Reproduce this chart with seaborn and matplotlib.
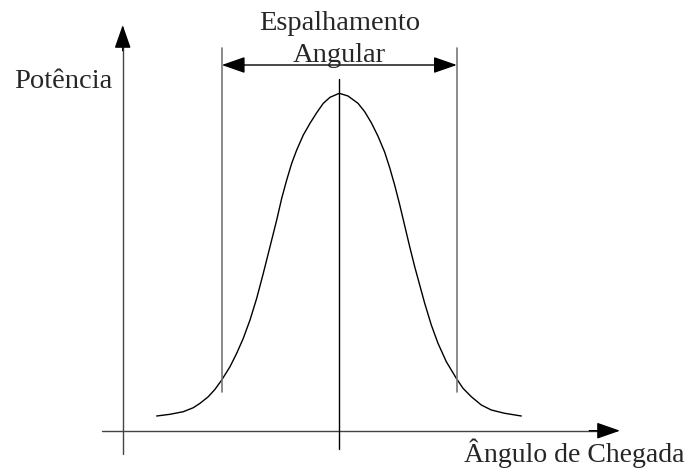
import matplotlib
matplotlib.use("Agg")
import matplotlib.pyplot as plt
import seaborn as sns

# curve (angle offset from centre, power)
angle = [-182.6, -169.3, -156.0, -146.0, -139.3, -131.0, -124.3, -117.6, -109.3, -102.6,
         -96.0, -89.3, -82.6, -76.0, -69.3, -62.6, -57.6, -52.6, -47.6, -42.6,
         -36.0, -29.3, -22.6, -16.0, -9.3, 0.0,
         8.7, 18.7, 25.4, 32.0, 38.7, 45.4, 50.4, 55.4, 60.4, 65.4,
         70.4, 75.4, 80.4, 85.4, 92.0, 98.7, 107.0, 117.0, 123.7, 132.0,
         142.0, 152.0, 165.4, 182.0]
power = [14.7, 16.4, 19.0, 23.0, 27.4, 34.0, 41.4, 50.7, 64.0, 77.4,
         92.4, 110.7, 132.4, 157.4, 184.0, 210.7, 232.4, 250.7, 267.4, 280.7,
         295.7, 307.4, 318.0, 327.4, 333.4, 337.4,
         334.7, 327.4, 319.0, 308.0, 294.5, 278.5, 263.0, 245.5, 226.0, 205.0,
         184.0, 164.0, 145.7, 127.4, 105.7, 87.4, 69.0, 52.4, 42.4, 34.0,
         25.7, 20.7, 17.4, 14.7]

spread_edges = [-117.5, 117.5]
mean_angle = 0.0

ylabel = "Potência"
xlabel = "Ângulo de Chegada"
spread_label = ["Espalhamento", "Angular"]

sns.set_style("white")
plt.rcParams["font.family"] = ["Liberation Serif", "DejaVu Serif"]

fig = plt.figure(figsize=(6.87, 4.70), dpi=100)
ax = fig.add_axes([0, 0, 1, 1])
ax.set_xlim(-339.3, 347.7)
ax.set_ylim(-39.3, 430.7)
ax.axis("off")

sns.lineplot(x=angle, y=power, sort=False, estimator=None, color="black", lw=1.0, ax=ax)

def arrow(start, end, style="-|>"):
    ax.annotate("", xy=end, xytext=start,
                arrowprops=dict(arrowstyle=style + ",head_length=0.4,head_width=0.14",
                                mutation_scale=36, color="black", lw=1.0,
                                shrinkA=0, shrinkB=0))

# axes
ax.plot([-237.3, 262], [0, 0], color="#444444", lw=1.0)
arrow((250, 0), (280.7, 0))
ax.plot([-216.6, -216.6], [-23.3, 390], color="#444444", lw=1.0)
arrow((-216.6, 380), (-216.6, 405.7))

# spread markers
for e in spread_edges:
    ax.plot([e, e], [38.7, 382.7], color="#777777", lw=1.2)
ax.plot([mean_angle, mean_angle], [-18.3, 351.7], color="black", lw=1.0)
arrow((spread_edges[0], 365.7), (spread_edges[1], 365.7), style="<|-|>")

fs = 20.5
ax.text(-276.3, 342.7, ylabel, fontsize=fs, ha="center", va="baseline")
ax.text(345.7, -31.3, xlabel, fontsize=20, ha="right", va="baseline")
ax.text(0, 400.7, spread_label[0], fontsize=fs, ha="center", va="baseline")
ax.text(0, 369.0, spread_label[1], fontsize=fs, ha="center", va="baseline")

fig.savefig("out.png", dpi=100)
